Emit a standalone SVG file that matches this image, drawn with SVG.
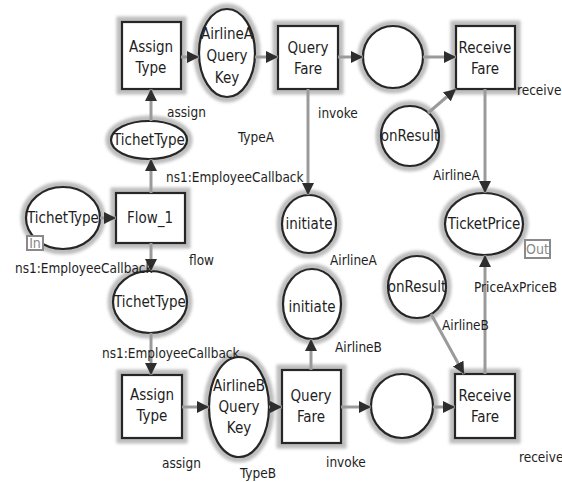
<svg xmlns="http://www.w3.org/2000/svg" width="562" height="482" viewBox="0 0 562 482">
<style>
.halo{fill:none;stroke:#bdbdbd;stroke-width:11;filter:url(#blur)}
.node{fill:#fff;stroke:#262626;stroke-width:2.2}
.t{font-family:"DejaVu Sans Condensed","DejaVu Sans",sans-serif;font-size:15px;fill:#1e1e1e;text-anchor:middle}
.l{font-family:"DejaVu Sans Condensed","DejaVu Sans",sans-serif;font-size:13.5px;fill:#1e1e1e}
.arc{fill:none;stroke:#9a9a9a;stroke-width:3;marker-end:url(#ah)}
.tag{fill:#fff;stroke:#8a8a8a;stroke-width:2}
.tagt{font-family:"DejaVu Sans Condensed","DejaVu Sans",sans-serif;font-size:14px;fill:#8a8a8a;text-anchor:middle}
</style>
<defs>
<filter id="blur" x="-30%" y="-30%" width="160%" height="160%"><feGaussianBlur stdDeviation="1.5"/></filter>
<marker id="ah" markerUnits="userSpaceOnUse" markerWidth="13" markerHeight="12" refX="12" refY="6" orient="auto"><path d="M0,0 L12,6 L0,12 z" fill="#2e2e2e"/></marker>
</defs>
<rect width="562" height="482" fill="#fff"/>

<g id="at1"><rect class="halo" x="122" y="22" width="59" height="67"/><rect class="node" x="122" y="22" width="59" height="67"/><text class="t" x="151" y="52">Assign</text><text class="t" x="151" y="73">Type</text></g>
<g id="kA"><ellipse class="halo" cx="227" cy="53" rx="28" ry="44"/><ellipse class="node" cx="227" cy="53" rx="28" ry="44"/><text class="t" x="227" y="39">AirlineA</text><text class="t" x="227" y="61">Query</text><text class="t" x="227" y="83">Key</text></g>
<g id="qfA"><rect class="halo" x="278" y="26" width="60" height="63"/><rect class="node" x="278" y="26" width="60" height="63"/><text class="t" x="308" y="53">Query</text><text class="t" x="308" y="74">Fare</text></g>
<g id="pA"><ellipse class="halo" cx="393" cy="57" rx="30" ry="31"/><ellipse class="node" cx="393" cy="57" rx="30" ry="31"/></g>
<g id="rfA"><rect class="halo" x="456" y="26" width="59" height="63"/><rect class="node" x="456" y="26" width="59" height="63"/><text class="t" x="485" y="53">Receive</text><text class="t" x="485" y="74">Fare</text></g>
<g id="orA"><ellipse class="halo" cx="410" cy="136" rx="29" ry="30"/><ellipse class="node" cx="410" cy="136" rx="29" ry="30"/><text class="t" x="410" y="141">onResult</text></g>
<g id="ttTop"><ellipse class="halo" cx="149" cy="140" rx="38" ry="19"/><ellipse class="node" cx="149" cy="140" rx="38" ry="19"/><text class="t" x="149" y="145">TichetType</text></g>
<g id="flow1"><rect class="halo" x="116" y="193" width="69" height="50"/><rect class="node" x="116" y="193" width="69" height="50"/><text class="t" x="150" y="223">Flow_1</text></g>
<g id="ttLeft"><ellipse class="halo" cx="63" cy="218" rx="37" ry="31"/><ellipse class="node" cx="63" cy="218" rx="37" ry="31"/><text class="t" x="63" y="223">TichetType</text><rect class="tag" x="27" y="236" width="16" height="14"/><text class="tagt" x="35" y="248">In</text></g>
<g id="ttLow"><ellipse class="halo" cx="150" cy="302" rx="37" ry="31"/><ellipse class="node" cx="150" cy="302" rx="37" ry="31"/><text class="t" x="150" y="307">TichetType</text></g>
<g id="at2"><rect class="halo" x="122" y="375" width="60" height="63"/><rect class="node" x="122" y="375" width="60" height="63"/><text class="t" x="152" y="400">Assign</text><text class="t" x="152" y="421">Type</text></g>
<g id="kB"><ellipse class="halo" cx="239" cy="407" rx="30" ry="50"/><ellipse class="node" cx="239" cy="407" rx="30" ry="50"/><text class="t" x="239" y="391">AirlineB</text><text class="t" x="239" y="412">Query</text><text class="t" x="239" y="433">Key</text></g>
<g id="qfB"><rect class="halo" x="282" y="370" width="59" height="73"/><rect class="node" x="282" y="370" width="59" height="73"/><text class="t" x="311" y="401">Query</text><text class="t" x="311" y="422">Fare</text></g>
<g id="pB"><ellipse class="halo" cx="402" cy="406" rx="31" ry="32"/><ellipse class="node" cx="402" cy="406" rx="31" ry="32"/></g>
<g id="rfB"><rect class="halo" x="455" y="374" width="60" height="64"/><rect class="node" x="455" y="374" width="60" height="64"/><text class="t" x="485" y="401">Receive</text><text class="t" x="485" y="422">Fare</text></g>
<g id="initA"><ellipse class="halo" cx="309" cy="224" rx="27" ry="29"/><ellipse class="node" cx="309" cy="224" rx="27" ry="29"/><text class="t" x="309" y="229">initiate</text></g>
<g id="initB"><ellipse class="halo" cx="312" cy="304" rx="29" ry="35"/><ellipse class="node" cx="312" cy="304" rx="29" ry="35"/><text class="t" x="312" y="312">initiate</text></g>
<g id="tp"><ellipse class="halo" cx="484" cy="224" rx="39" ry="31"/><ellipse class="node" cx="484" cy="224" rx="39" ry="31"/><text class="t" x="484" y="229">TicketPrice</text><rect class="tag" x="525" y="240" width="25" height="18"/><text class="tagt" x="537.5" y="254">Out</text></g>
<g id="orB"><ellipse class="halo" cx="417" cy="287" rx="29" ry="31"/><ellipse class="node" cx="417" cy="287" rx="29" ry="31"/><text class="t" x="417" y="292">onResult</text></g>

<g id="connectors">
<line class="arc" x1="181" y1="57" x2="199" y2="57"/>
<line class="arc" x1="255" y1="57" x2="278" y2="57"/>
<line class="arc" x1="338" y1="57" x2="363" y2="57"/>
<line class="arc" x1="423" y1="57" x2="456" y2="57"/>
<line class="arc" x1="428" y1="113" x2="456" y2="89"/>
<line class="arc" x1="308" y1="89" x2="308" y2="195"/>
<line class="arc" x1="485" y1="89" x2="485" y2="193"/>
<line class="arc" x1="151" y1="121" x2="151" y2="89"/>
<line class="arc" x1="151" y1="193" x2="151" y2="159"/>
<line class="arc" x1="100" y1="218" x2="116" y2="218"/>
<line class="arc" x1="151" y1="243" x2="151" y2="271"/>
<line class="arc" x1="151" y1="333" x2="151" y2="375"/>
<line class="arc" x1="182" y1="407" x2="209" y2="407"/>
<line class="arc" x1="269" y1="407" x2="282" y2="407"/>
<line class="arc" x1="311" y1="370" x2="311" y2="339"/>
<line class="arc" x1="341" y1="407" x2="371" y2="407"/>
<line class="arc" x1="433" y1="407" x2="455" y2="407"/>
<line class="arc" x1="431" y1="314" x2="464" y2="374"/>
<line class="arc" x1="485" y1="374" x2="485" y2="255"/>
</g>

<g id="labels">
<text class="l" x="167" y="117">assign</text>
<text class="l" x="238" y="142">TypeA</text>
<text class="l" x="318" y="118">invoke</text>
<text class="l" x="517" y="95">receive</text>
<text class="l" x="433" y="180">AirlineA</text>
<text class="l" x="166" y="182">ns1:EmployeeCallback</text>
<text class="l" x="330" y="265">AirlineA</text>
<text class="l" x="189" y="265">flow</text>
<text class="l" x="15" y="273">ns1:EmployeeCallback</text>
<text class="l" x="474" y="292">PriceAxPriceB</text>
<text class="l" x="442" y="330">AirlineB</text>
<text class="l" x="335" y="352">AirlineB</text>
<text class="l" x="102" y="358">ns1:EmployeeCallback</text>
<text class="l" x="162" y="468">assign</text>
<text class="l" x="240" y="478">TypeB</text>
<text class="l" x="326" y="467">invoke</text>
<text class="l" x="519" y="462">receive</text>
</g>
</svg>
